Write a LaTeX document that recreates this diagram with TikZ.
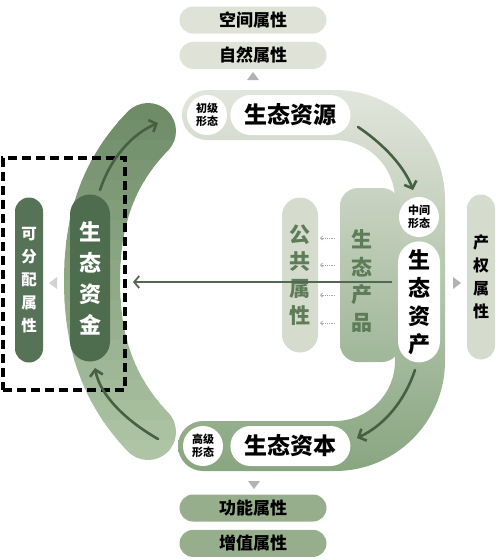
\documentclass[tikz,border=0pt]{standalone}
\usepackage{fontspec}
\setmainfont{Noto Sans CJK SC}
\usepackage{xcolor}
\usepackage{tikz}
\usetikzlibrary{positioning}
\usetikzlibrary{arrows, arrows.meta}

\definecolor{bandtop}{RGB}{226,229,220}
\definecolor{bandbot}{RGB}{136,166,128}
\definecolor{leftdark}{RGB}{110,140,104}
\definecolor{leftlight}{RGB}{174,196,164}
\definecolor{zijingreen}{RGB}{78,108,78}
\definecolor{pillgrey}{RGB}{222,226,215}
\definecolor{pillpale}{RGB}{213,220,206}
\definecolor{pillgreen}{RGB}{150,174,140}
\definecolor{arrowgreen}{RGB}{70,96,66}
\definecolor{textgreen}{RGB}{94,124,88}

\begin{document}
\begin{tikzpicture}[x=1pt, y=-1pt,
  toppill/.style={rectangle, rounded corners=13.5pt, fill=pillgrey, minimum width=147pt,
    minimum height=27pt, inner sep=0pt, font=\fontsize{17}{20}\selectfont\bfseries},
  botpill/.style={toppill, fill=pillgreen},
  formdot/.style={circle, fill=white, minimum size=40pt, inner sep=0pt, align=center,
    font=\fontsize{11}{12.5}\selectfont\bfseries},
  mainpill/.style={rectangle, rounded corners=20pt, fill=white, minimum width=120pt,
    minimum height=40pt, inner sep=0pt, font=\fontsize{23}{26}\selectfont\bfseries},
  vmainpill/.style={rectangle, rounded corners=21pt, fill=white, minimum width=42pt,
    minimum height=121pt, inner sep=0pt, align=center, font=\fontsize{22}{28}\selectfont\bfseries},
  sidepill/.style={rectangle, rounded corners=14pt, fill=pillpale, minimum width=28pt,
    minimum height=165pt, inner sep=0pt, align=center, font=\fontsize{16}{23}\selectfont\bfseries},
  gongpill/.style={rectangle, rounded corners=18pt, fill=pillpale, minimum width=36pt,
    minimum height=155pt, inner sep=0pt, align=center, text=textgreen,
    font=\fontsize{21}{27}\selectfont\bfseries},
  flow/.style={draw=arrowgreen, line width=2.6pt, line cap=round,
    -{Straight Barb[length=6pt,width=13pt]}},
  longarrow/.style={draw=arrowgreen!75!gray, line width=1.8pt,
    -{Straight Barb[length=5pt,width=12pt]}},
  dotarrow/.style={draw=gray!70, densely dotted, line width=0.8pt,
    -{Straight Barb[length=2pt,width=4pt]}},
  tri/.style={fill=gray!60}]
  \useasboundingbox (0,0) rectangle (500,560);

  % loop band
  \shade[top color=bandtop, bottom color=bandbot]
    (207,90) -- (335,90) arc[start angle=-90, end angle=0, radius=110]
    -- (445,361) arc[start angle=0, end angle=90, radius=110]
    -- (203,471) arc[start angle=90, end angle=270, radius=25]
    -- (335,421) arc[start angle=90, end angle=0, radius=60]
    -- (395,200) arc[start angle=0, end angle=-90, radius=60]
    -- (207,140) arc[start angle=90, end angle=270, radius=25] -- cycle;
  \shade[top color=bandtop!72!bandbot, bottom color=bandtop!27!bandbot, rounded corners=18pt]
    (340,188) rectangle (400,362);

  % left band, in strips
  \def\leftarc{(148,131) .. controls (108,172) and (92,220) .. (92,281)
    .. controls (92,342) and (108,390) .. (148,432)}
  \foreach \i in {0,...,17} {
    \pgfmathtruncatemacro\ya{100+20*\i}
    \pgfmathtruncatemacro\yb{\ya+21}
    \pgfmathtruncatemacro\pct{100-100*\i/17}
    \begin{scope}
      \clip (40,\ya) rectangle (200,\yb);
      \draw[line width=56pt, line cap=round, color=leftdark!\pct!leftlight] \leftarc;
    \end{scope}
  }

  \node[toppill] (kongjian) at (253,20) {空间属性};
  \node[toppill, below=8pt of kongjian] (ziran) {自然属性};

  \node[formdot] (chuji) at (207,115) {初级\\形态};
  \node[mainpill, right=3pt of chuji] (ziyuan) {生态资源};

  \node[formdot] (zhongjian) at (419,217) {中间\\形态};
  \node[vmainpill, below=4pt of zhongjian] (zichan) {生\\态\\资\\产};

  \node[formdot] (gaoji) at (203,446) {高级\\形态};
  \node[mainpill, right=7pt of gaoji] (ziben) {生态资本};

  \node[botpill] (gongneng) at (253,508) {功能属性};
  \node[botpill, below=8pt of gongneng] (zengzhi) {增值属性};

  \node[sidepill] (chanquan) at (481,277) {产\\权\\属\\性};
  \node[gongpill] (gonggong) at (300,275) {公\\共\\属\\性};
  \node[align=center, text=textgreen, inner sep=0pt,
    font=\fontsize{21}{27.5}\selectfont\bfseries] (chanpin) at (362,281) {生\\态\\产\\品};

  \node[sidepill, minimum width=40pt, minimum height=167pt, rounded corners=20pt,
    fill=zijingreen, text=white, font=\fontsize{22}{31}\selectfont\bfseries]
    (zijin) at (90,278) {生\\态\\资\\金};
  \node[sidepill, fill=zijingreen!95!white, text=white, font=\fontsize{15.5}{23}\selectfont\bfseries]
    (fenpei) at (29,280) {可\\分\\配\\属\\性};
  \node[draw, dash pattern=on 9pt off 5pt, line width=3.2pt, minimum width=122pt,
    minimum height=232pt, inner sep=0pt] (zijinbox) at (64,274) {};

  % small pointers
  \fill[tri] (247,80) -- (259,80) -- (253,72) -- cycle;
  \fill[tri] (248,481) -- (260,481) -- (254,489) -- cycle;
  \fill[tri] (453,277) -- (453,289) -- (461,283) -- cycle;
  \fill[tri, fill=gray!35] (57,277) -- (57,289) -- (49,283) -- cycle;

  % turning arrows
  \coordinate (TURN1a) at (358,127);
  \coordinate (TURN1b) at (413,190);
  \coordinate (TURN2a) at (415,370);
  \coordinate (TURN2b) at (357,438);
  \coordinate (TURN3a) at (158,439);
  \coordinate (TURN3b) at (95,368);
  \coordinate (TURN4a) at (100,190);
  \coordinate (TURN4b) at (158,123);
  \draw[flow] (TURN1a) .. controls (385,145) and (405,168) .. (TURN1b);
  \draw[flow] (TURN2a) .. controls (405,400) and (385,425) .. (TURN2b);
  \draw[flow] (TURN3a) .. controls (125,420) and (100,395) .. (TURN3b);
  \draw[flow] (TURN4a) .. controls (110,160) and (130,135) .. (TURN4b);

  \coordinate (ARROW1) at (392,282);
  \coordinate (ARROW2) at (133,282);
  \draw[longarrow] (ARROW1) -- (ARROW2);

  \foreach \yy in {238,265,295,323}
    \draw[dotarrow] (335,\yy) -- (320,\yy);
\end{tikzpicture}
\end{document}
